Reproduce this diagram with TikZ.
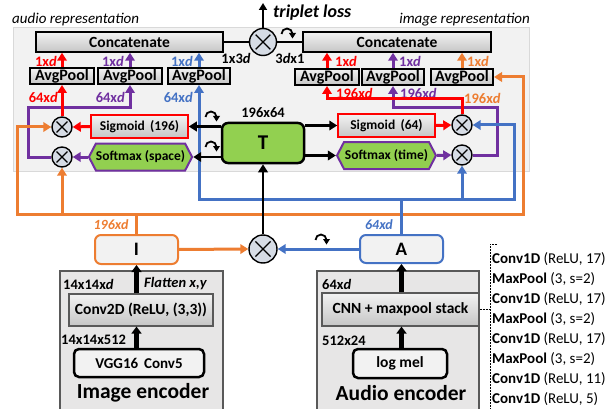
\documentclass[tikz,border=0pt]{standalone}
\usepackage{fontspec}
\setmainfont{Carlito}
\usetikzlibrary{arrows.meta,shapes.symbols,calc}
\definecolor{cred}{HTML}{FF0000}
\definecolor{cpur}{HTML}{7030A0}
\definecolor{cblu}{HTML}{4472C4}
\definecolor{cora}{HTML}{ED7D31}
\definecolor{cgrn}{HTML}{92D050}
\definecolor{cpan}{HTML}{F2F2F2}
\definecolor{cpanb}{HTML}{D9D9D9}
\definecolor{ccir}{HTML}{D6DCE5}
\definecolor{cenc}{HTML}{E7E6E6}
\definecolor{cencb}{HTML}{595959}
\newcommand{\fsz}[1]{\fontsize{#1}{#1}\selectfont}
\begin{document}
\begin{tikzpicture}[x=1pt,y=-1pt,
  ar/.style={line width=3pt,-{Triangle[length=8pt,width=9.5pt]}},
  ln/.style={line width=3pt},
  bar/.style={line width=2.5pt,-{Triangle[length=8pt,width=9.5pt]}},
  thk/.style={line width=4.5pt,-{Triangle[length=7pt,width=10pt]}},
  gbox/.style={draw=black, line width=1.5pt, top color=gray!10, bottom color=gray!45, inner sep=0, font=\fsz{15.5}\bfseries},
  avg/.style={gbox, line width=2pt, minimum height=16, minimum width=64, font=\fsz{16}\bfseries},
  sig/.style={draw=cred, line width=1.5pt, top color=gray!10, bottom color=gray!45, inner sep=0, minimum width=97, minimum height=23, font=\fsz{13.5}\bfseries},
  hex/.style={signal, signal to=west and east, signal pointer angle=125, draw=cpur, line width=2pt, fill=cgrn, inner sep=0, minimum width=100, minimum height=27, font=\fsz{13.5}\bfseries},
  xc/.style={circle, draw=black, line width=1.4pt, fill=ccir, minimum size=#1, inner sep=0,
    path picture={\draw[line width=1.4pt]
      ($(path picture bounding box.center)+(-0.27*#1,-0.27*#1)$) -- ($(path picture bounding box.center)+(0.27*#1,0.27*#1)$)
      ($(path picture bounding box.center)+(-0.27*#1,0.27*#1)$) -- ($(path picture bounding box.center)+(0.27*#1,-0.27*#1)$);}},
  lab/.style={font=\fsz{14.5}\bfseries, inner sep=0},
  enc/.style={draw=cencb, line width=1.2pt, fill=cenc, inner sep=0},
  lst/.style={font=\fsz{15}, inner sep=0, anchor=west},
  curv/.pic={\draw[line width=1.8pt] (-5.5,5) arc[start angle=180,end angle=360,radius=5.5];
             \fill (2,4) -- (9,4) -- (5.5,9.5) -- cycle;}
]
\useasboundingbox (0,0) rectangle (610,409);
% panel
\node[draw=cpanb, fill=cpan, line width=1pt, inner sep=0, minimum width=516, minimum height=143] (panel) at (271,99.5) {};
\node[font=\fsz{15}\itshape, anchor=west, inner sep=0] (arep) at (12,20) {audio representation};
\node[font=\fsz{15}\itshape, anchor=east, inner sep=0] (irep) at (530,20) {image representation};
% top
\node[gbox, minimum width=187, minimum height=20] (concL) at (129.5,42) {Concatenate};
\node[gbox, minimum width=188, minimum height=20] (concR) at (397,42) {Concatenate};
\node[xc=27] (X0) at (263,42) {};
\coordinate (tl) at (263,3);
\node[font=\fsz{18}\bfseries\itshape, anchor=west, inner sep=0] (tlab) at (273,13) {triplet loss};
\draw[line width=1.5pt] (concL.east) -- (X0.west);
\draw[line width=1.5pt] (X0.east) -- (concR.west);
\draw[line width=2pt,-{Triangle[length=7pt,width=8pt]}] (X0.north) -- (tl);
\node[lab] (l13) at (236,58) {1x3\textit{d}};
\node[lab] (l31) at (290,58) {3\textit{d}x1};
\pic at (287,29) {curv};
% avgpools
\node[avg] (avgL1) at (62,76) {AvgPool};
\node[avg] (avgL2) at (130,76) {AvgPool};
\node[avg, minimum width=62] (avgL3) at (199,76) {AvgPool};
\node[avg] (avgR1) at (327,77) {AvgPool};
\node[avg, minimum width=62] (avgR2) at (393,77) {AvgPool};
\node[avg, minimum width=62] (avgR3) at (462,77) {AvgPool};
\draw[ar, cred] (avgL1.north) -- (avgL1.north |- concL.south);
\draw[ar, cpur] (avgL2.north) -- (avgL2.north |- concL.south);
\draw[ar, cblu] (avgL3.north) -- (avgL3.north |- concL.south);
\draw[ar, cred] (avgR1.north) -- (avgR1.north |- concR.south);
\draw[ar, cpur] (avgR2.north) -- (avgR2.north |- concR.south);
\draw[ar, cora] (avgR3.north) -- (avgR3.north |- concR.south);
% labels
\node[lab, cred, anchor=east] (a1) at (57,61) {1x\textit{d}};
\node[lab, cpur, anchor=east] (a2) at (124,61) {1x\textit{d}};
\node[lab, cblu, anchor=east] (a3) at (193,61) {1x\textit{d}};
\node[lab, cred, anchor=east] (a4) at (58,97) {64x\textit{d}};
\node[lab, cpur, anchor=east] (a5) at (125,97) {64x\textit{d}};
\node[lab, cblu, anchor=east] (a6) at (193,97) {64x\textit{d}};
\node[lab, cred, anchor=west] (b1) at (335,61) {1x\textit{d}};
\node[lab, cpur, anchor=west] (b2) at (399,61) {1x\textit{d}};
\node[lab, cora, anchor=west] (b3) at (467,61) {1x\textit{d}};
\node[lab, cred, anchor=west] (b4) at (336,93) {196x\textit{d}};
\node[lab, cpur, anchor=west] (b5) at (400,93) {196x\textit{d}};
\node[lab, cora, anchor=west] (b6) at (464,98) {196x\textit{d}};
% middle
\node[draw=black, line width=2.5pt, fill=cgrn, rounded corners=6, minimum width=82, minimum height=40, font=\fsz{21}\bfseries] (T) at (263,143) {T};
\node[lab] (tdim) at (263,113) {196x64};
\node[sig] (sigL) at (139.5,126.5) {Sigmoid\, (196)};
\node[hex] (softL) at (140.5,157) {Softmax (space)};
\node[sig] (sigR) at (386.5,125.5) {Sigmoid\, (64)};
\node[hex, minimum width=99] (softR) at (386.5,155.5) {Softmax (time)};
\node[xc=20] (XL1) at (62,127) {};
\node[xc=20] (XL2) at (62,157) {};
\node[xc=20] (XR1) at (462,125) {};
\node[xc=20] (XR2) at (462,155) {};
% bottom
\node[draw=cora, line width=2pt, fill=cpan, rounded corners=6, minimum width=83, minimum height=29, font=\fsz{19}\bfseries] (I) at (136.5,249.5) {I};
\node[draw=cblu, line width=2pt, fill=cpan, rounded corners=6, minimum width=83, minimum height=28, font=\fsz{19}\bfseries] (A) at (401.5,249) {A};
\node[xc=28] (Xb) at (263,249) {};
\node[font=\fsz{14}\bfseries\itshape, cora, inner sep=0] (ilab) at (111,225) {196x\textit{d}};
\node[font=\fsz{14}\bfseries\itshape, cblu, inner sep=0] (alab) at (379,225) {64x\textit{d}};
% coordinates
\coordinate (pLc) at (28,108);
\coordinate (rRc) at (327,99);
\coordinate (pRc) at (497,108);
\coordinate (bj) at (401.5,199);
\coordinate (bR) at (514,199);
\coordinate (oj) at (136.5,214);
\coordinate (oL) at (17,214);
\coordinate (oR) at (523,214);
% purple
\draw[ar, cpur] (softL.west) -- (XL2.east);
\draw[ar, cpur] (XL2.west) -| (pLc) -| (avgL2.south);
\draw[ar, cpur] (softR.east) -- (XR2.west);
\draw[ar, cpur] (XR2.east) -| (pRc) -| (avgR2.south);
% red
\draw[ar, cred] (sigL.west) -- (XL1.east);
\draw[ar, cred] (XL1.north) -- (avgL1.south);
\draw[ar, cred] (sigR.east) -- (XR1.west);
\draw[ar, cred] (XR1.north) |- (rRc) -- (avgR1.south);
% orange
\draw[ln, cora] (I.north) -- (oj);
\draw[ar, cora] (oj) -- (oL) |- (XL1.west);
\draw[ar, cora] (oj) -| (XL2.south);
\draw[ar, cora] (oj) -- (oR) |- (avgR3.east);
\draw[ar, cora] (I.east) -- (Xb.west);
% blue
\draw[ln, cblu] (A.north) -- (bj);
\draw[ar, cblu] (bj) -| (avgL3.south);
\draw[ar, cblu] (bj) -- (bR) |- (XR1.east);
\draw[ar, cblu] (bj) -| (XR2.south);
\draw[ar, cblu] (A.west) -- (Xb.east);
% black
\draw[bar] (Xb.north) -- (T.south);
\draw[bar] (sigL.east -| T.west) -- (sigL.east);
\draw[bar] (softL.east -| T.west) -- (softL.east);
\draw[bar] (sigR.west -| T.east) -- (sigR.west);
\draw[bar] (softR.west -| T.east) -- (softR.west);
\pic at (211,112) {curv};
\pic at (211,142) {curv};
\pic at (321,235) {curv};
% image encoder
\node[enc, minimum width=163, minimum height=141] (imgenc) at (141.5,341.5) {};
\node[gbox, draw=cencb, line width=1.2pt, minimum width=144, minimum height=32] (conv) at (141,310) {Conv2D (ReLU, (3,3))};
\node[draw=black, line width=2.5pt, fill=cpan, rounded corners=5, minimum width=130, minimum height=28, font=\fsz{15}\bfseries] (vgg) at (139,363) {VGG16\, Conv5};
\node[font=\fsz{21.5}\bfseries, inner sep=0] (itit) at (143,393) {Image encoder};
\draw[thk] (vgg.north -| I.south) -- (conv.south -| I.south);
\draw[thk] (conv.north -| I.south) -- (I.south);
\node[lab, anchor=west] (i1) at (63,284) {14x14x\textit{d}};
\node[lab, anchor=west] (i2) at (144,284) {\textit{Flatten x,y}};
\node[lab, anchor=west] (i3) at (61,340) {14x14x512};
% audio encoder
\node[enc, minimum width=162, minimum height=141] (audenc) at (398,341.5) {};
\node[gbox, draw=cencb, line width=1.2pt, minimum width=157, minimum height=33] (cnn) at (400.5,309.5) {CNN + maxpool stack};
\node[draw=black, line width=2.5pt, fill=cpan, rounded corners=5, minimum width=94, minimum height=29, font=\fsz{15.5}\bfseries] (logmel) at (400,363.5) {log mel};
\node[font=\fsz{21.5}\bfseries, inner sep=0] (atit) at (401,393) {Audio encoder};
\draw[thk] (logmel.north -| A.south) -- (cnn.south -| A.south);
\draw[thk] (cnn.north -| A.south) -- (A.south);
\node[lab, anchor=west] (a7) at (322,284) {64x\textit{d}};
\node[lab, anchor=west] (a8) at (322,341) {512x24};
% list
\coordinate (br) at (490,309.5);
\coordinate (bt) at (490,244);
\coordinate (btr) at (497,244);
\coordinate (bb) at (490,409);
\draw[line width=0.6pt, dash pattern=on 2pt off 1pt] (cnn.east) -- (br);
\draw[line width=0.6pt, dash pattern=on 2pt off 1pt] (btr) -- (bt) -- (bb);
\node[lst] (c1) at (492,259) {\textbf{Conv1D} (ReLU, 17)};
\node[lst] (c2) at (492,279) {\textbf{MaxPool} (3, s=2)};
\node[lst] (c3) at (492,299) {\textbf{Conv1D} (ReLU, 17)};
\node[lst] (c4) at (492,319) {\textbf{MaxPool} (3, s=2)};
\node[lst] (c5) at (492,339) {\textbf{Conv1D} (ReLU, 17)};
\node[lst] (c6) at (492,359) {\textbf{MaxPool} (3, s=2)};
\node[lst] (c7) at (492,379) {\textbf{Conv1D} (ReLU, 11)};
\node[lst] (c8) at (492,399) {\textbf{Conv1D} (ReLU, 5)};
\end{tikzpicture}
\end{document}
